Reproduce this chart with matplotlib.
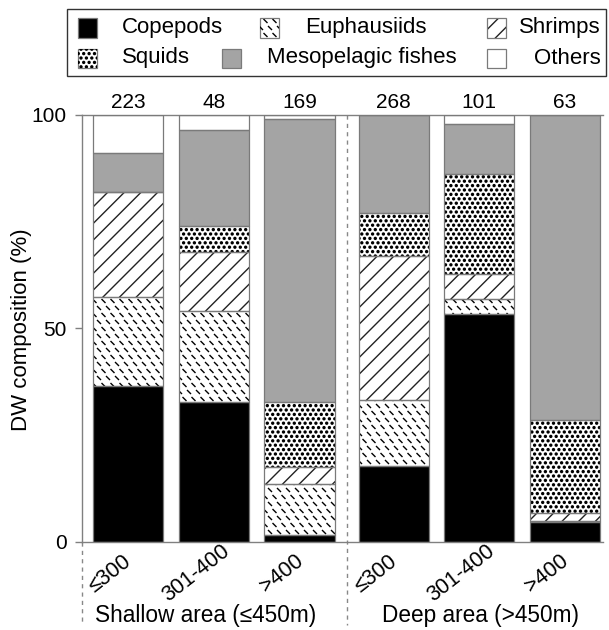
import numpy as np
import matplotlib
matplotlib.use('Agg')
import matplotlib.pyplot as plt
from matplotlib.patches import Rectangle
from matplotlib.collections import LineCollection, CircleCollection
import matplotlib.transforms as mtransforms

plt.rcParams['font.family'] = ['Liberation Sans', 'DejaVu Sans']
plt.rcParams['hatch.linewidth'] = 1.0

# ---------------- data ----------------
categories = ['≤300', '301-400', '>400', '≤300', '301-400', '>400']
counts = [223, 48, 169, 268, 101, 63]
group_labels = ['Shallow area (≤450m)', 'Deep area (>450m)']

copepods    = [36.6, 32.8, 1.6, 17.7, 53.3, 4.7]
euphausiids = [20.8, 21.3, 11.9, 15.5, 3.5, 0.2]
shrimps     = [24.6, 13.9, 4.1, 33.8, 5.9, 1.9]
squids      = [0.0, 6.0, 15.1, 10.0, 23.5, 21.8]
meso_fishes = [9.2, 22.6, 66.4, 23.0, 11.7, 71.4]
others      = [8.8, 3.4, 0.9, 0.0, 2.1, 0.0]

series_names = ['Copepods', 'Euphausiids', 'Shrimps', 'Squids',
                'Mesopelagic fishes', 'Others']
series_values = [copepods, euphausiids, shrimps, squids, meso_fishes, others]

# ---------------- styles ----------------
styles = {
    'Copepods': dict(fc='black', hatch=None, hc='none', tex=None),
    'Euphausiids': dict(fc='white', hatch=None, hc='none', tex='dash'),
    'Shrimps': dict(fc='white', hatch='//', hc='#222222', tex=None),
    'Squids': dict(fc='white', hatch=None, hc='none', tex='dots'),
    'Mesopelagic fishes': dict(fc='#a4a4a4', hatch=None, hc='none', tex=None),
    'Others': dict(fc='white', hatch=None, hc='none', tex=None),
}
EDGE = '#7a7a7a'
W, H = 609, 630

fig = plt.figure(figsize=(W / 100, H / 100), dpi=100)


def fx(px):
    return px / W


def fy(py):
    return 1 - py / H


ax = fig.add_axes([fx(82), fy(541.67), (603 - 82) / W, 426.67 / H])
xpos = np.array([0, 1, 2, 3.1, 4.1, 5.1])
ax.set_xlim(-0.537, 5.543)
ax.set_ylim(0, 100)


def grid_points(bb, dx, dy):
    pts = []
    j0 = int(np.floor(bb.y0 / dy)) - 1
    j1 = int(np.ceil(bb.y1 / dy)) + 1
    for j in range(j0, j1 + 1):
        cy = j * dy
        off = (j % 2) * dx / 2
        i0 = int(np.floor((bb.x0 - off) / dx)) - 1
        i1 = int(np.ceil((bb.x1 - off) / dx)) + 1
        for i in range(i0, i1 + 1):
            pts.append((i * dx + off, cy))
    return pts


def add_texture(patch, container, kind):
    bb = patch.get_window_extent()
    ident = mtransforms.IdentityTransform()
    if kind == 'dash':
        half = 2.0
        segs = [[(cx - half, cy + half), (cx + half, cy - half)]
                for cx, cy in grid_points(bb, 9.0, 7.0)]
        art = LineCollection(segs, colors='black', linewidths=1.0,
                             transform=ident)
    else:
        pts = grid_points(bb, 5.4, 4.4)
        art = CircleCollection([4.6] * len(pts), offsets=pts,
                               offset_transform=ident, facecolors='black',
                               edgecolors='none')
    if container is fig:
        fig.add_artist(art)
    else:
        container.add_collection(art, autolim=False)
    art.set_clip_path(patch)
    art.set_zorder(2.5)


bottom = np.zeros(len(xpos))
for name, vals in zip(series_names, series_values):
    st = styles[name]
    vals = np.asarray(vals, dtype=float)
    bars = ax.bar(xpos, vals, width=0.82, bottom=bottom, color=st['fc'],
                  hatch=st['hatch'], edgecolor=st['hc'], linewidth=0, zorder=2)
    ax.bar(xpos, vals, width=0.82, bottom=bottom, fill=False,
           edgecolor=EDGE, linewidth=0.9, zorder=3)
    if st['tex']:
        for b in bars:
            if b.get_height() > 0:
                add_texture(b, ax, st['tex'])
    bottom += vals

# counts above bars
for xi, c in zip(xpos, counts):
    ax.annotate(str(c), (xi, 100), xytext=(0, 2), textcoords='offset points',
                ha='center', va='bottom', fontsize=15, annotation_clip=False)

# spines / ticks
for s in ['left', 'top', 'bottom']:
    ax.spines[s].set_color('#808080')
    ax.spines[s].set_linewidth(1.0)
ax.spines['right'].set_visible(False)
ax.set_yticks([0, 50, 100])
ax.tick_params(axis='y', direction='out', length=5, width=1, color='#808080',
               pad=6, labelsize=15)
ax.set_xticks(xpos, categories)
ax.tick_params(axis='x', length=0, pad=23, labelsize=15.5)
shift = mtransforms.ScaledTranslation(-0.18, 0, fig.dpi_scale_trans)
for lbl in ax.get_xticklabels():
    lbl.set_rotation(38)
    lbl.set_ha('center')
    lbl.set_va('center')
    lbl.set_rotation_mode('anchor')
    lbl.set_transform(lbl.get_transform() + shift)

# dashed separators
trans = mtransforms.blended_transform_factory(ax.transData, ax.transAxes)
sep = (xpos[2] + xpos[3]) / 2
ax.plot([sep, sep], [1, -0.195], transform=trans, clip_on=False,
        ls=(0, (3, 3)), color='#888888', lw=1)
ax.plot([0, 0], [0, -0.195], transform=ax.transAxes, clip_on=False,
        ls=(0, (3, 3)), color='#888888', lw=1)

# group labels
group_centers = [0.91, 4.11]
for gx, gl in zip(group_centers, group_labels):
    ax.text(gx, -0.174, gl, transform=trans, ha='center', va='center',
            fontsize=16.3)

# y label
fig.text(fx(22), fy(330), 'DW composition (%)', rotation=90, ha='center',
         va='center', fontsize=16)


# ---------------- manual legend ----------------
def fig_rect(px0, py0, px1, py1, **kw):
    r = Rectangle((fx(px0), fy(py1)), (px1 - px0) / W, (py1 - py0) / H,
                  transform=fig.transFigure, **kw)
    fig.add_artist(r)
    return r


fig_rect(67, 9, 606, 76, fill=False, edgecolor='#333333', lw=1.0)
legend_layout = {
    'Copepods': (78, 28, 122, 'left'),
    'Euphausiids': (260, 28, 305, 'left'),
    'Shrimps': (487, 28, 601, 'right'),
    'Squids': (78, 58, 122, 'left'),
    'Mesopelagic fishes': (222, 58, 267, 'left'),
    'Others': (487, 58, 601, 'right'),
}
hs = 19
for name in series_names:
    hx, hy, tx, ha = legend_layout[name]
    st = styles[name]
    p = fig_rect(hx, hy - hs / 2, hx + hs, hy + hs / 2, facecolor=st['fc'],
                 hatch=st['hatch'], edgecolor=st['hc'], lw=0)
    if st['tex']:
        add_texture(p, fig, st['tex'])
    fig_rect(hx, hy - hs / 2, hx + hs, hy + hs / 2, fill=False,
             edgecolor=EDGE, lw=0.9)
    fig.text(fx(tx), fy(hy), name, ha=ha, va='center', fontsize=16)

fig.savefig('out.png', dpi=100)
